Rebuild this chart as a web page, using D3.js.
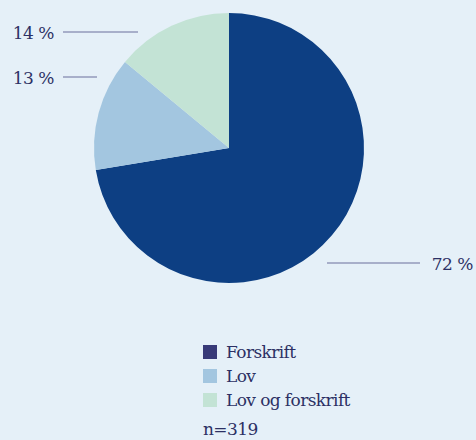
<!DOCTYPE html>
<head>
  <meta charset="utf-8">
  <style>
    body { margin: 0; background: #e5f0f8; }
    svg text { font-family: "DejaVu Serif", "Liberation Serif", "Times New Roman", serif; fill: #2c3064; }
  </style>
</head>
<body>
  <div id="pie"></div>
  <script src="https://cdn.jsdelivr.net/npm/d3@7"></script>
  <script>
    // shares, labels as printed
    const categories = ['Forskrift', 'Lov', 'Lov og forskrift'];
    const shares = [72.4, 13.6, 14.0];
    const pctLabels = ['72 %', '13 %', '14 %'];
    const nLabel = 'n=319';

    const colors = ['#0d3f83', '#a3c6e0', '#c3e3d5'];
    const swatch = ['#373a78', '#a3c6e0', '#c3e3d5'];

    const width = 476, height = 440;
    const cx = 229, cy = 148, r = 135;

    const svg = d3.select('#pie').append('svg')
      .attr('width', width)
      .attr('height', height);

    const pie = d3.pie().sort(null).value(d => d);
    const arcs = pie(shares);
    const arc = d3.arc().innerRadius(0).outerRadius(r);

    const g = svg.append('g').attr('transform', `translate(${cx},${cy})`);
    g.selectAll('path')
      .data(arcs)
      .join('path')
      .attr('d', arc)
      .attr('fill', (d, i) => colors[i]);

    // leader lines + labels (positions picked by hand like the original)
    const leaders = [
      { i: 0, x1: 327, x2: 420, y: 263, tx: 473, anchor: 'end' },
      { i: 1, x1: 63, x2: 97, y: 77, tx: 54, anchor: 'end' },
      { i: 2, x1: 63, x2: 138, y: 32, tx: 54, anchor: 'end' }
    ];
    leaders.forEach(l => {
      svg.append('line')
        .attr('x1', l.x1).attr('x2', l.x2)
        .attr('y1', l.y).attr('y2', l.y)
        .attr('stroke', '#6a6f9c')
        .attr('stroke-width', 1);
      svg.append('text')
        .attr('x', l.tx).attr('y', l.y + 7)
        .attr('text-anchor', l.anchor)
        .style('font-size', '17px')
        .style('letter-spacing', '-0.5px')
        .text(pctLabels[l.i]);
    });

    // legend
    const legend = svg.append('g').attr('transform', 'translate(203,345)');
    categories.forEach((c, i) => {
      const row = legend.append('g').attr('transform', `translate(0,${i * 24})`);
      row.append('rect')
        .attr('width', 14).attr('height', 14)
        .attr('fill', swatch[i]);
      row.append('text')
        .attr('x', 23).attr('y', 13)
        .style('font-size', '17px')
        .style('letter-spacing', '-0.6px')
        .text(c);
    });
    legend.append('text')
      .attr('x', 0).attr('y', 90)
      .style('font-size', '17px')
      .style('letter-spacing', '-0.6px')
      .text(nLabel);
  </script>
</body>
</html>
